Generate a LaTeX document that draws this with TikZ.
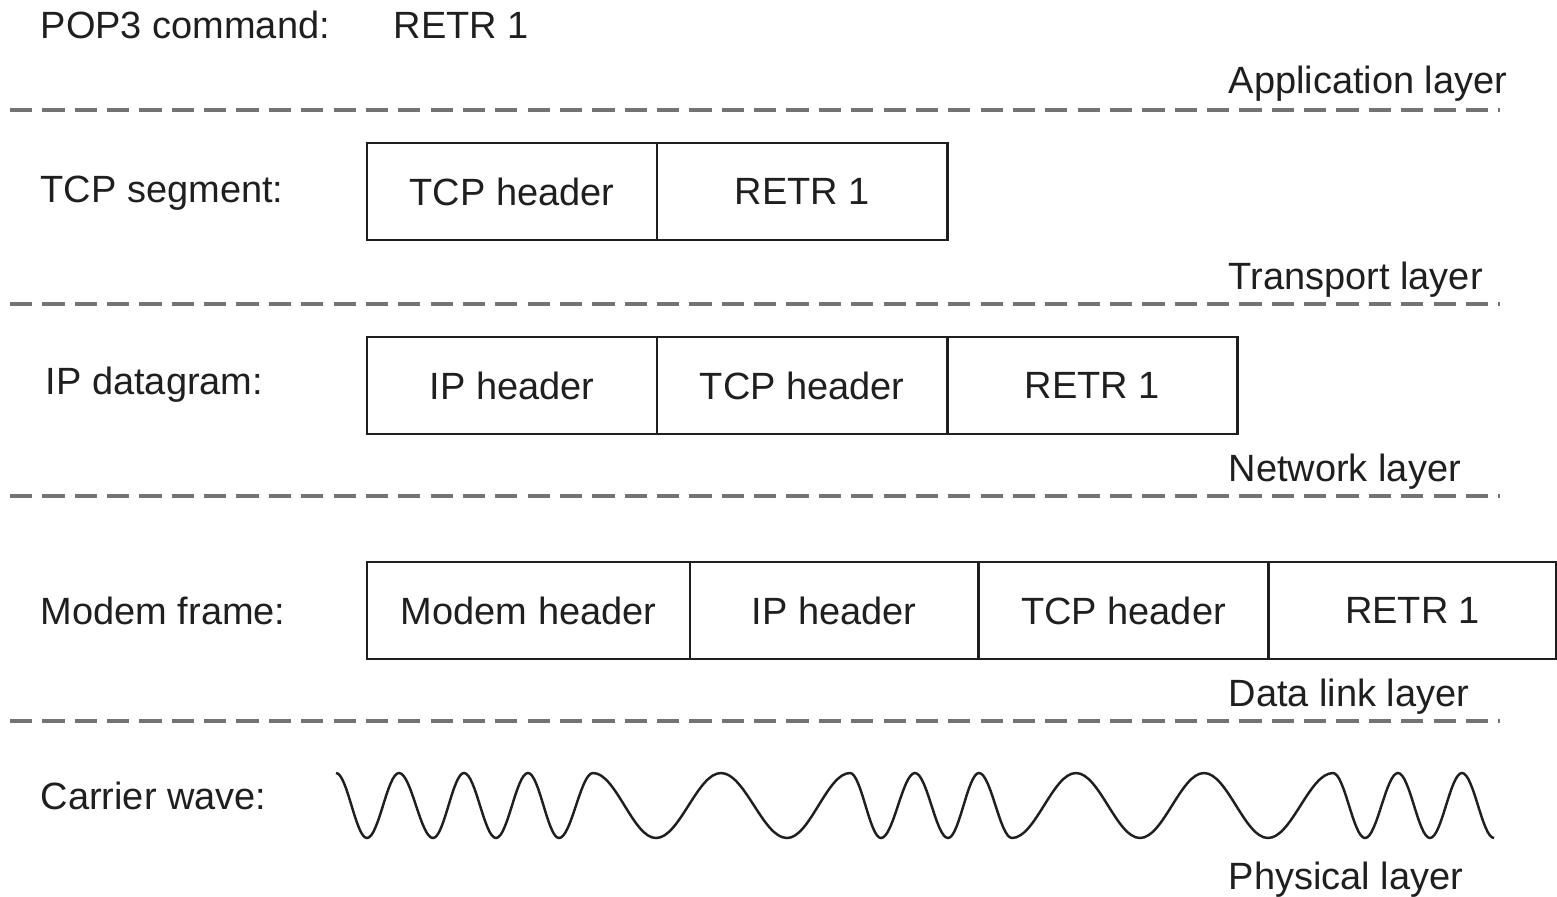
\documentclass[tikz,border=0pt]{standalone}
\usepackage{fontspec}
\setmainfont{Liberation Sans}
\usetikzlibrary{positioning}

\definecolor{ink}{gray}{0.12}
\definecolor{dashgray}{gray}{0.45}

\tikzset{
  cell/.style={draw=ink, line width=0.7pt, text=ink, minimum width=2.9cm,
    minimum height=0.97cm, inner sep=0pt, outer sep=0pt},
  lbl/.style={anchor=base west, inner sep=0pt, text=ink},
  layerline/.style={draw=dashgray, line width=0.9pt, dash pattern=on 6.3pt off 2.9pt},
}

\begin{document}
\begin{tikzpicture}[x=0.01cm, y=-0.01cm, font=\fontsize{10.8}{13}\selectfont]
  \useasboundingbox (0,0) rectangle (1557,896);

  % application layer
  \node[lbl] (pop) at (40,38) {POP3 command:};
  \node[lbl] (cmd) at (393,38) {RETR 1};
  \node[lbl] (app) at (1228,93) {Application layer};
  \draw[layerline] (10,110) -- (1500,110);

  % transport layer
  \node[lbl] (seglbl) at (40,202) {TCP segment:};
  \node[cell, anchor=north west] (tcp1) at (367,143) {TCP header};
  \node[cell, right=0pt of tcp1] (data1) {RETR 1};
  \node[lbl] (trans) at (1228,289) {Transport layer};
  \draw[layerline] (10,304) -- (1500,304);

  % network layer
  \node[lbl] (iplbl) at (45,394) {IP datagram:};
  \node[cell, anchor=north west] (ip2) at (367,337) {IP header};
  \node[cell, right=0pt of ip2] (tcp2) {TCP header};
  \node[cell, right=0pt of tcp2] (data2) {RETR 1};
  \node[lbl] (net) at (1228,481) {Network layer};
  \draw[layerline] (10,496) -- (1500,496);

  % data link layer
  \node[lbl] (framelbl) at (40,624) {Modem frame:};
  \node[cell, anchor=north west, minimum width=3.23cm] (modem3) at (367,562) {Modem header};
  \node[cell, right=0pt of modem3, minimum width=2.88cm] (ip3) {IP header};
  \node[cell, right=0pt of ip3] (tcp3) {TCP header};
  \node[cell, right=0pt of tcp3, minimum width=2.88cm] (data3) {RETR 1};
  \node[lbl] (link) at (1228,706) {Data link layer};
  \draw[layerline] (10,721) -- (1500,721);

  % physical layer
  \node[lbl] (wavelbl) at (40,809) {Carrier wave:};
  \draw[ink, line width=0.7pt] (336,773)
    foreach \m/\x/\y in {351.5/367/838, 383/399/773, 416/433/838, 448.5/464/773,
      480/496/838, 512/528/773, 543.5/559/838, 576/593/773, 624.5/656/838,
      688.5/721/773, 754/787/838, 818.5/850/773, 865.5/881/838, 898/915/773,
      931.5/948/838, 963.5/979/773, 995.5/1012/838, 1044/1076/773,
      1108/1140/838, 1172/1204/773, 1236/1268/838, 1300.5/1333/773,
      1349/1365/838, 1381.5/1398/773, 1414/1430/838, 1446/1462/773,
      1478/1494/838} { cos (\m,805.5) sin (\x,\y) };
  \node[lbl] (phys) at (1228,889) {Physical layer};
\end{tikzpicture}
\end{document}
